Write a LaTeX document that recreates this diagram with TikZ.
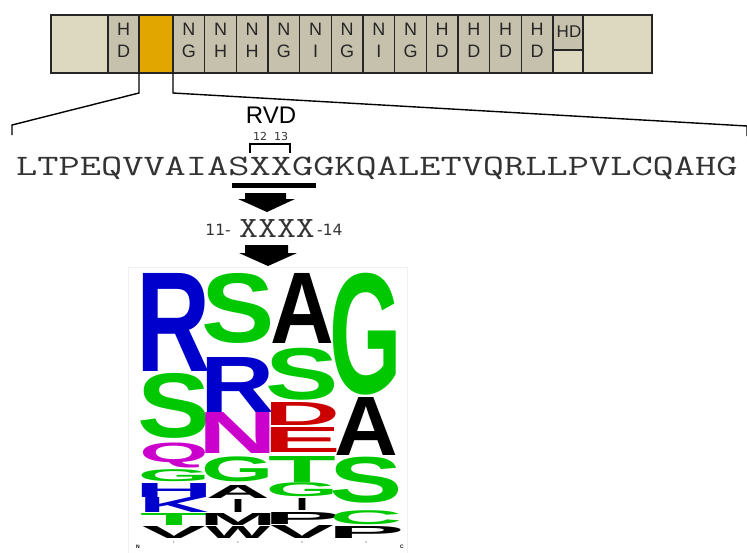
\documentclass[tikz,border=0pt]{standalone}
\usepackage{fontspec}
\usepackage{graphicx}
\setmainfont{Liberation Sans}
\newfontfamily\numfont{DejaVu Sans}
\usetikzlibrary{calc}
\definecolor{lightcell}{HTML}{DDD8C0}
\definecolor{greycell}{HTML}{C6C1AD}
\definecolor{orangecell}{HTML}{E2A600}
\definecolor{cellline}{HTML}{262626}
\definecolor{logoblue}{HTML}{0000CC}
\definecolor{logogreen}{HTML}{00C800}
\definecolor{logomag}{HTML}{CC00CC}
\definecolor{logored}{HTML}{CC0000}
% logo letter: name, centre x, top y, bottom y, colour, letter, ink/advance ratio (percent)
\newcommand{\logoletter}[7]{%
  \node[inner sep=0pt, outer sep=0pt, anchor=center] (#1) at (#2,{(#3+#4)/2})
    {\makebox[62pt]{\resizebox*{\dimexpr 6300pt/#7\relax}{\dimexpr #4pt-#3pt\relax}{\bfseries\color{#5}#6}}};}
\begin{document}
\begin{tikzpicture}[x=1pt,y=-1pt,
  cellbox/.style={draw=cellline, line width=1.4pt, inner sep=0pt, outer sep=0pt, anchor=north west},
  celltxt/.style={inner sep=0pt, anchor=base, font=\fontsize{18}{18}\selectfont, text=black!85},
  seqtxt/.style={inner sep=0pt, anchor=base west, font=\ttfamily\fontsize{41.2}{41}\selectfont, text=black!80},
  numtxt/.style={inner sep=0pt, anchor=base, font=\numfont\fontsize{11}{12}\selectfont, text=black!80},
  bracketline/.style={line width=1.4pt, draw=black},
  blockarrow/.style={fill=black}]
\useasboundingbox (0,0) rectangle (747,552);

% ---------- repeat bar ----------
\node[cellbox, fill=lightcell, minimum width=57pt, minimum height=58pt] (nterm) at (51,15) {};
\node[cellbox, fill=greycell, minimum width=31pt, minimum height=58pt] (hd0) at (108,15) {};
\node[celltxt] at (123.5,35) {H};
\node[celltxt] at (123.5,57.5) {D};
\node[cellbox, fill=orangecell, minimum width=34pt, minimum height=58pt] (orange) at (139,15) {};
\foreach \t/\b [count=\i from 0] in {N/G,N/H,N/H,N/G,N/I,N/G,N/I,N/G,H/D,H/D,H/D,H/D} {
  \node[cellbox, fill=greycell, minimum width=31.67pt, minimum height=58pt] (r\i) at ({173+31.67*\i},15) {};
  \node[celltxt] at ($(r\i.north)+(0,20)$) {\t};
  \node[celltxt] at ($(r\i.north)+(0,42.5)$) {\b};
}
\node[cellbox, fill=greycell, minimum width=30pt, minimum height=35pt] (halftop) at (553,15) {};
\node[cellbox, fill=lightcell, minimum width=30pt, minimum height=23pt] (halfbot) at (553,50) {};
\node[celltxt, font=\fontsize{17}{17}\selectfont] at (569,37) {HD};
\node[cellbox, fill=lightcell, minimum width=69pt, minimum height=58pt] (cterm) at (583,15) {};

% ---------- zoom bracket ----------
\coordinate (lbend) at (139,93);
\coordinate (lfoot) at (12,125);
\coordinate (lend) at (12,135);
\coordinate (rbend) at (173,93);
\coordinate (rfoot) at (747,126);
\coordinate (rend) at (747,136);
\draw[bracketline] (orange.south west) -- (lbend) -- (lfoot) -- (lend);
\draw[bracketline] (orange.south east) -- (rbend) -- (rfoot) -- (rend);

% ---------- RVD ----------
\node[inner sep=0pt, anchor=base, font=\fontsize{24}{24}\selectfont] (rvd) at (271,123) {RVD};
\node[numtxt] (n12) at (260,140) {12};
\node[numtxt] (n13) at (281,140) {13};
\draw[line width=1.2pt] (250,153) -- (250,144) -- (290,144) -- (290,153);

% ---------- sequence ----------
\node[seqtxt] (seq) at (16,175) {\scalebox{1}[0.72]{LTPEQVVAIASXXGGKQALETVQRLLPVLCQAHG}};
\fill (232,183) rectangle (316,188);

% arrow 1
\fill[blockarrow] (245,193) -- (286,193) -- (286,199) -- (295,199) -- (267,212) -- (238,199) -- (245,199) -- cycle;

% ---------- XXXX ----------
\node[inner sep=0pt, anchor=base, font=\ttfamily\fontsize{36.7}{36}\selectfont, text=black!80] (xxxx) at (277,237) {\scalebox{1}[0.8]{XXXX}};
\node[inner sep=0pt, anchor=base east, font=\numfont\fontsize{15.5}{15}\selectfont, text=black!80] (l11) at (231,235) {11-};
\node[inner sep=0pt, anchor=base west, font=\numfont\fontsize{15.5}{15}\selectfont, text=black!80] (l14) at (317,235) {-14};

% arrow 2
\fill[blockarrow] (245,245) -- (288,245) -- (288,253) -- (297,253) -- (268,266) -- (239,253) -- (245,253) -- cycle;

% ---------- sequence logo ----------
\draw[black!6, line width=0.8pt] (128,553) -- (128,267) -- (407,267) -- (407,553);

% column 1
\logoletter{a1}{174}{273}{371}{logoblue}{R}{85}
\logoletter{a2}{174}{373}{438}{logogreen}{S}{86}
\logoletter{a3}{174}{443}{468}{logomag}{Q}{91}
\logoletter{a4}{174}{470}{482}{logogreen}{G}{87}
\logoletter{a5}{174}{483}{497}{logoblue}{H}{80}
\logoletter{a6}{174}{497}{512}{logoblue}{K}{90}
\logoletter{a7}{174}{513}{525}{logogreen}{T}{93}
\logoletter{a8}{174}{526}{538}{black}{V}{99}
% column 2
\logoletter{b1}{238}{273}{343}{logogreen}{S}{86}
\logoletter{b2}{238}{357}{412}{logoblue}{R}{85}
\logoletter{b3}{238}{412}{453}{logomag}{N}{80}
\logoletter{b4}{238}{457}{482}{logogreen}{G}{87}
\logoletter{b5}{238}{485}{498}{black}{A}{99}
\logoletter{b6}{238}{499}{512}{black}{I}{485}
\logoletter{b7}{238}{513}{525}{black}{M}{82}
\logoletter{b8}{238}{526}{538}{black}{W}{98}
% column 3
\logoletter{c1}{302}{273}{343}{black}{A}{99}
\logoletter{c2}{302}{348}{400}{logogreen}{S}{86}
\logoletter{c3}{302}{402}{425}{logored}{D}{83}
\logoletter{c4}{302}{427}{452}{logored}{E}{81}
\logoletter{c5}{302}{456}{482}{logogreen}{T}{93}
\logoletter{c6}{302}{483}{497}{logogreen}{G}{87}
\logoletter{c7}{302}{498}{510}{black}{I}{485}
\logoletter{c8}{302}{512}{524}{black}{P}{82}
\logoletter{c9}{302}{525}{538}{black}{V}{99}
% column 4
\logoletter{d1}{366}{273}{395}{logogreen}{G}{87}
\logoletter{d2}{366}{397}{455}{black}{A}{99}
\logoletter{d3}{366}{457}{503}{logogreen}{S}{86}
\logoletter{d4}{366}{511}{525}{logogreen}{C}{87}
\logoletter{d5}{366}{526}{538}{black}{P}{82}

% axis labels
\node[inner sep=0pt, font=\bfseries\fontsize{5}{5}\selectfont] (nlab) at (138,547) {N};
\node[inner sep=0pt, font=\bfseries\fontsize{5}{5}\selectfont] (clab) at (402,547) {C};
\foreach \xx/\k in {174/1,238/2,302/3,366/4}
  \node[inner sep=0pt, font=\fontsize{3}{3}\selectfont, text=black!70] (tick\k) at (\xx,542) {\k};
\end{tikzpicture}
\end{document}
